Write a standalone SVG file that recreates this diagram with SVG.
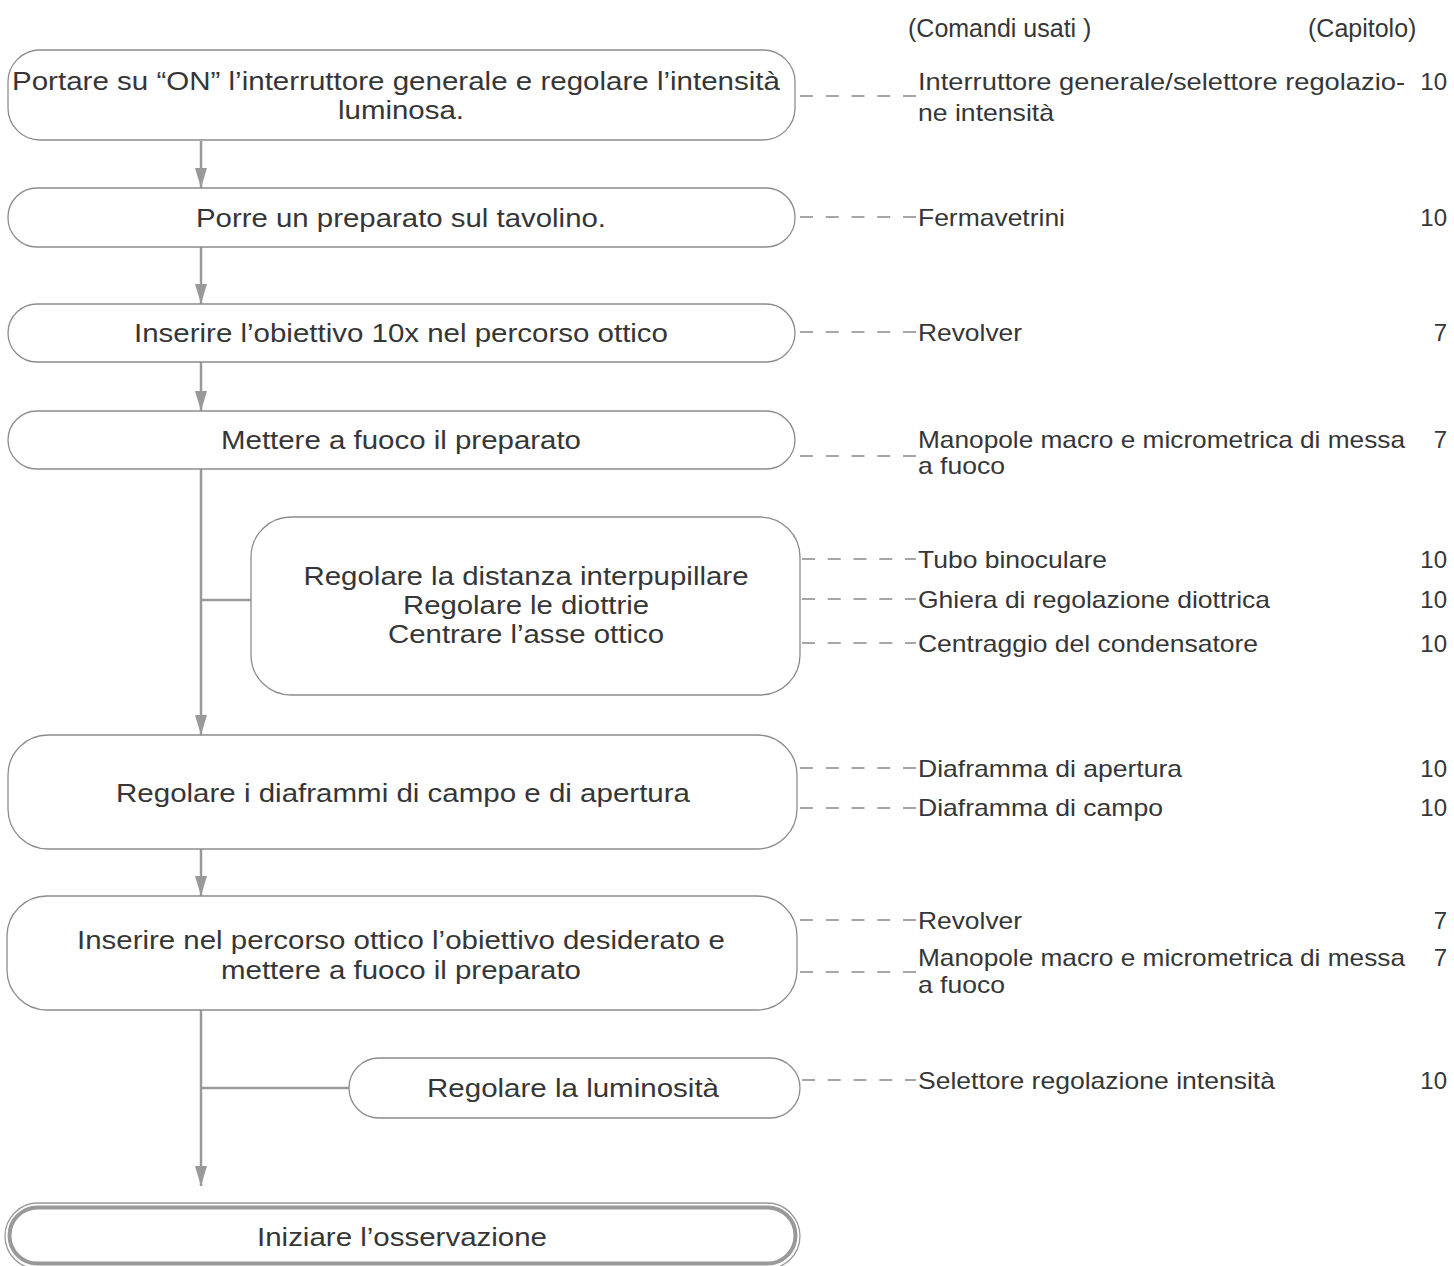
<svg xmlns="http://www.w3.org/2000/svg" width="1454" height="1266" viewBox="0 0 1454 1266">
<defs>
<style>
.box{fill:#fff;stroke:#8c8c8c;stroke-width:1.3}
.t{font-family:"Liberation Sans",Arial,sans-serif;font-size:26px;fill:#363636;text-anchor:middle}
.r{font-family:"Liberation Sans",Arial,sans-serif;font-size:24px;fill:#363636}
.h{font-family:"Liberation Sans",Arial,sans-serif;font-size:25px;fill:#363636}
.n{font-family:"Liberation Sans",Arial,sans-serif;font-size:24px;fill:#363636;text-anchor:end}
.c{fill:none;stroke:#999;stroke-width:2.5}
.d{fill:none;stroke:#a6a6a6;stroke-width:2;stroke-dasharray:13 12.75}
</style>
<marker id="ah" viewBox="0 0 20 12" refX="20" refY="6" markerWidth="20" markerHeight="12" markerUnits="userSpaceOnUse" orient="auto">
<path d="M0,0 L20,6 L0,12 Z" fill="#999"/>
</marker>
</defs>
<rect width="1454" height="1266" fill="#fff"/>

<g id="headers">
<text class="h" x="908" y="37">(Comandi usati )</text>
<text class="h" x="1308" y="37">(Capitolo)</text>
</g>

<g id="connectors">
<line class="c" x1="201" y1="141" x2="201" y2="188" marker-end="url(#ah)"/>
<line class="c" x1="201" y1="247" x2="201" y2="304" marker-end="url(#ah)"/>
<line class="c" x1="201" y1="362" x2="201" y2="411" marker-end="url(#ah)"/>
<line class="c" x1="201" y1="469" x2="201" y2="735" marker-end="url(#ah)"/>
<line class="c" x1="201" y1="600" x2="251" y2="600"/>
<line class="c" x1="201" y1="849" x2="201" y2="896" marker-end="url(#ah)"/>
<line class="c" x1="201" y1="1010" x2="201" y2="1186" marker-end="url(#ah)"/>
<line class="c" x1="201" y1="1088" x2="349" y2="1088"/>
<line class="d" x1="800" y1="96" x2="916" y2="96"/>
<line class="d" x1="800" y1="217" x2="916" y2="217"/>
<line class="d" x1="800" y1="332" x2="916" y2="332"/>
<line class="d" x1="800" y1="456" x2="916" y2="456"/>
<line class="d" x1="802" y1="559" x2="916" y2="559"/>
<line class="d" x1="802" y1="599" x2="916" y2="599"/>
<line class="d" x1="802" y1="643" x2="916" y2="643"/>
<line class="d" x1="800" y1="768" x2="916" y2="768"/>
<line class="d" x1="800" y1="808" x2="916" y2="808"/>
<line class="d" x1="800" y1="920" x2="916" y2="920"/>
<line class="d" x1="800" y1="972" x2="916" y2="972"/>
<line class="d" x1="802" y1="1080" x2="916" y2="1080"/>
</g>

<g id="n1">
<rect class="box" x="8" y="50" width="787" height="90" rx="32"/>
<text class="t" x="396" y="90" textLength="768" lengthAdjust="spacingAndGlyphs">Portare su “ON” l’interruttore generale e regolare l’intensità</text>
<text class="t" x="401" y="119" textLength="126" lengthAdjust="spacingAndGlyphs">luminosa.</text>
</g>
<g id="n2">
<rect class="box" x="8" y="188" width="787" height="59" rx="29"/>
<text class="t" x="401" y="227" textLength="410" lengthAdjust="spacingAndGlyphs">Porre un preparato sul tavolino.</text>
</g>
<g id="n3">
<rect class="box" x="8" y="304" width="787" height="58" rx="29"/>
<text class="t" x="401" y="342" textLength="534" lengthAdjust="spacingAndGlyphs">Inserire l’obiettivo 10x nel percorso ottico</text>
</g>
<g id="n4">
<rect class="box" x="8" y="411" width="787" height="58" rx="29"/>
<text class="t" x="401" y="449" textLength="360" lengthAdjust="spacingAndGlyphs">Mettere a fuoco il preparato</text>
</g>
<g id="n5">
<rect class="box" x="251" y="517" width="549" height="178" rx="40"/>
<text class="t" x="526" y="585" textLength="445" lengthAdjust="spacingAndGlyphs">Regolare la distanza interpupillare</text>
<text class="t" x="526" y="614" textLength="246" lengthAdjust="spacingAndGlyphs">Regolare le diottrie</text>
<text class="t" x="526" y="643" textLength="276" lengthAdjust="spacingAndGlyphs">Centrare l’asse ottico</text>
</g>
<g id="n6">
<rect class="box" x="8" y="735" width="789" height="114" rx="40"/>
<text class="t" x="403" y="802" textLength="574" lengthAdjust="spacingAndGlyphs">Regolare i diaframmi di campo e di apertura</text>
</g>
<g id="n7">
<rect class="box" x="7" y="896" width="790" height="114" rx="40"/>
<text class="t" x="401" y="949" textLength="648" lengthAdjust="spacingAndGlyphs">Inserire nel percorso ottico l’obiettivo desiderato e</text>
<text class="t" x="401" y="979" textLength="360" lengthAdjust="spacingAndGlyphs">mettere a fuoco il preparato</text>
</g>
<g id="n8">
<rect class="box" x="349" y="1058" width="451" height="60" rx="30"/>
<text class="t" x="573" y="1097" textLength="292" lengthAdjust="spacingAndGlyphs">Regolare la luminosità</text>
</g>
<g id="n9">
<rect x="5" y="1203" width="795" height="66" rx="33" fill="#fff" stroke="#999" stroke-width="1.3"/>
<rect x="9.5" y="1207.5" width="786" height="56" rx="28" fill="none" stroke="#999" stroke-width="4"/>
<text class="t" x="402" y="1246" textLength="290" lengthAdjust="spacingAndGlyphs">Iniziare l’osservazione</text>
</g>

<g id="commands">
<text class="r" x="918" y="90" textLength="487" lengthAdjust="spacingAndGlyphs">Interruttore generale/selettore regolazio-</text>
<text class="r" x="918" y="121" textLength="136" lengthAdjust="spacingAndGlyphs">ne intensità</text>
<text class="n" x="1447" y="90">10</text>
<text class="r" x="918" y="226" textLength="147" lengthAdjust="spacingAndGlyphs">Fermavetrini</text>
<text class="n" x="1447" y="226">10</text>
<text class="r" x="918" y="341" textLength="104" lengthAdjust="spacingAndGlyphs">Revolver</text>
<text class="n" x="1447" y="341">7</text>
<text class="r" x="918" y="448" textLength="487" lengthAdjust="spacingAndGlyphs">Manopole macro e micrometrica di messa</text>
<text class="r" x="918" y="474" textLength="87" lengthAdjust="spacingAndGlyphs">a fuoco</text>
<text class="n" x="1447" y="448">7</text>
<text class="r" x="918" y="568" textLength="189" lengthAdjust="spacingAndGlyphs">Tubo binoculare</text>
<text class="n" x="1447" y="568">10</text>
<text class="r" x="918" y="608" textLength="352" lengthAdjust="spacingAndGlyphs">Ghiera di regolazione diottrica</text>
<text class="n" x="1447" y="608">10</text>
<text class="r" x="918" y="652" textLength="340" lengthAdjust="spacingAndGlyphs">Centraggio del condensatore</text>
<text class="n" x="1447" y="652">10</text>
<text class="r" x="918" y="777" textLength="264" lengthAdjust="spacingAndGlyphs">Diaframma di apertura</text>
<text class="n" x="1447" y="777">10</text>
<text class="r" x="918" y="816" textLength="245" lengthAdjust="spacingAndGlyphs">Diaframma di campo</text>
<text class="n" x="1447" y="816">10</text>
<text class="r" x="918" y="929" textLength="104" lengthAdjust="spacingAndGlyphs">Revolver</text>
<text class="n" x="1447" y="929">7</text>
<text class="r" x="918" y="966" textLength="487" lengthAdjust="spacingAndGlyphs">Manopole macro e micrometrica di messa</text>
<text class="r" x="918" y="993" textLength="87" lengthAdjust="spacingAndGlyphs">a fuoco</text>
<text class="n" x="1447" y="966">7</text>
<text class="r" x="918" y="1089" textLength="357" lengthAdjust="spacingAndGlyphs">Selettore regolazione intensità</text>
<text class="n" x="1447" y="1089">10</text>
</g>
</svg>
